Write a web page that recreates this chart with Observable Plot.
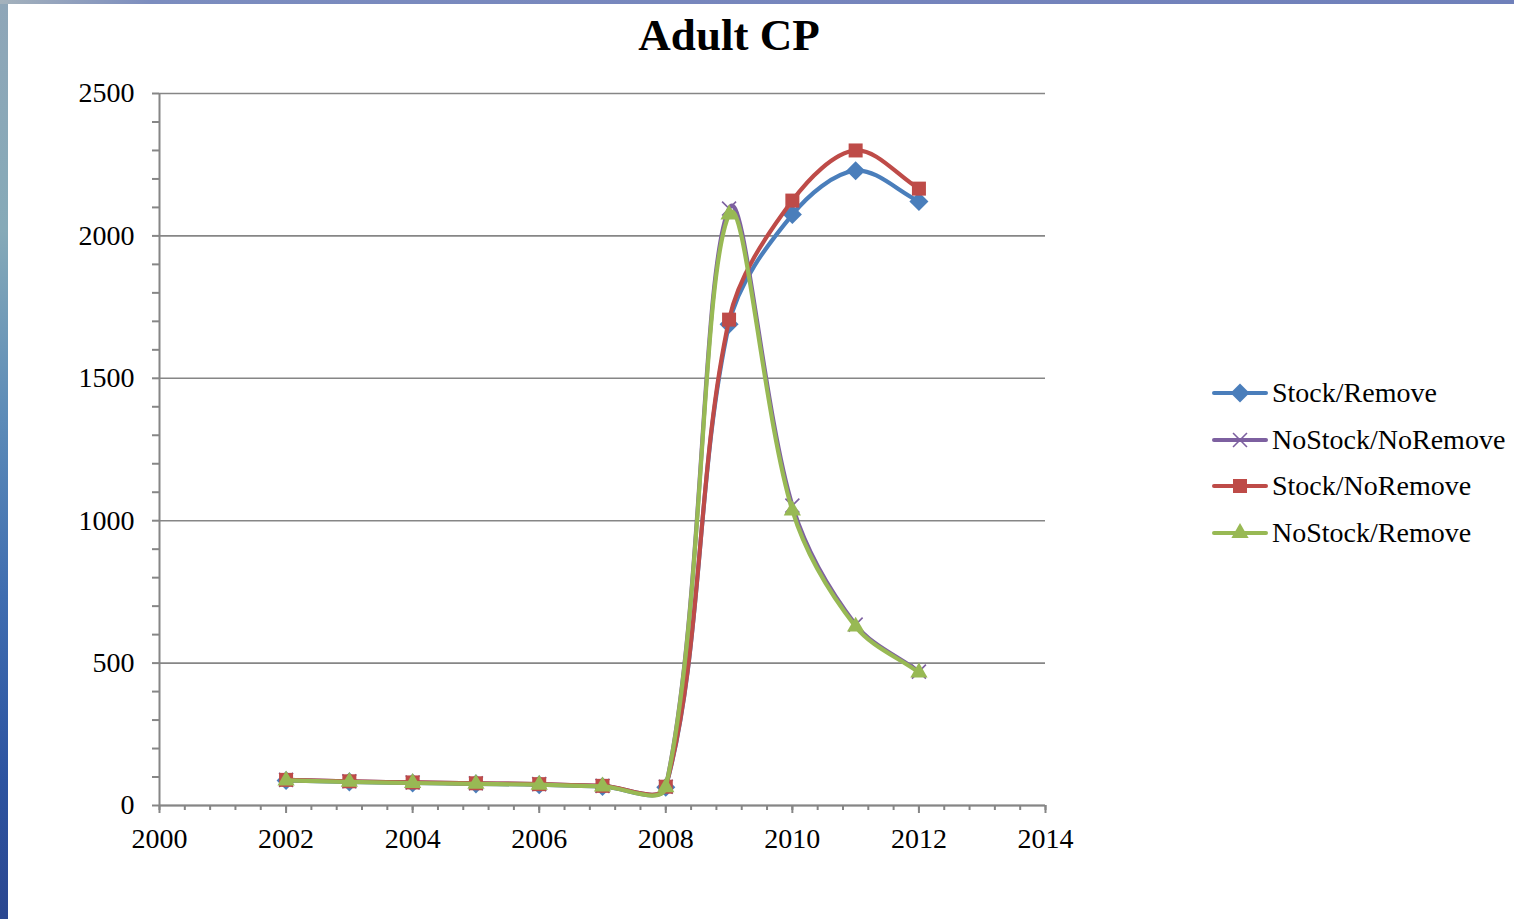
<!DOCTYPE html>
<html>
<head>
<meta charset="utf-8">
<script src="https://cdn.jsdelivr.net/npm/d3@7"></script>
<script src="https://cdn.jsdelivr.net/npm/@observablehq/plot@0.6"></script>
<style>
  html, body { margin: 0; padding: 0; }
  body {
    width: 1514px; height: 919px; overflow: hidden; position: relative;
    background: linear-gradient(to bottom, #8fa6b8 0%, #86aab8 25%, #5d8cb8 45%, #3f6db0 65%, #2c53a0 85%, #2b4790 100%);
  }
  #topband {
    position: absolute; left: 0; top: 0; width: 1514px; height: 4px;
    background: linear-gradient(to right, #a4b2bc 0%, #7c8dbf 10%, #7584bc 60%, #6f80ba 100%);
  }
  #panel {
    position: absolute; left: 8px; top: 4px; width: 1506px; height: 915px; background: #ffffff;
  }
  #title {
    position: absolute; left: 0; top: 9px; width: 1442px; text-align: center;
    font-family: "Liberation Serif", serif; font-weight: bold; font-size: 45px; line-height: 45px; color: #000;
  }
  #chart { position: absolute; left: 0; top: 0; }
  #legend {
    position: absolute; left: 1204px; top: 371px;
    font-family: "Liberation Serif", serif; font-size: 28px; color: #000;
  }
  .item { display: flex; align-items: center; height: 36px; margin-bottom: 10.7px; white-space: nowrap; }
  .item svg { margin-right: 4px; }
</style>
</head>
<body>
<div id="topband"></div>
<div id="panel">
  <div id="title">Adult CP</div>
  <div id="chart"></div>
  <div id="legend"></div>
</div>
<script>
// Annual adult CP counts for the four stocking / removal scenarios
const years = [2002, 2003, 2004, 2005, 2006, 2007, 2008, 2009, 2010, 2011, 2012];
const stockRemove     = [88, 83, 79, 76, 73, 67, 64, 1690, 2075, 2229, 2121];
const noStockNoRemove = [90, 85, 81, 78, 75, 69, 66, 2096, 1053, 635, 470];
const stockNoRemove   = [90, 85, 81, 78, 75, 69, 66, 1706, 2124, 2300, 2166];
const noStockRemove   = [88, 83, 79, 76, 73, 67, 64, 2075, 1036, 628, 467];

const seriesNames = ["Stock/Remove", "NoStock/NoRemove", "Stock/NoRemove", "NoStock/Remove"];
const seriesValues = [stockRemove, noStockNoRemove, stockNoRemove, noStockRemove];
const seriesColors = ["#4a7ebb", "#7d60a0", "#be4b48", "#98b954"];

// Axis ticks
const yMajor = [0, 500, 1000, 1500, 2000, 2500];
const yMinor = d3.range(0, 2501, 100);
const xMajor = [2000, 2002, 2004, 2006, 2008, 2010, 2012, 2014];
const xMinor = d3.range(0, 36).map(i => 2000 + i * 0.4);

// Smoothed line: cubic Bézier segments whose tangent at each point runs parallel
// to the chord between its neighbours, split in proportion to the adjacent segment lengths.
function SmoothCurve(context) { this._context = context; }
SmoothCurve.prototype = {
  areaStart() { this._line = 0; },
  areaEnd() { this._line = NaN; },
  lineStart() { this._xs = []; this._ys = []; },
  point(x, y) { this._xs.push(+x); this._ys.push(+y); },
  lineEnd() {
    const xs = this._xs, ys = this._ys, n = xs.length, ctx = this._context, k = 1 / 3;
    if (n) {
      if (this._line) ctx.lineTo(xs[0], ys[0]); else ctx.moveTo(xs[0], ys[0]);
    }
    if (n === 2) ctx.lineTo(xs[1], ys[1]);
    else if (n > 2) {
      const before = [], after = [];
      for (let i = 0; i < n; ++i) {
        const i0 = Math.max(0, i - 1), i2 = Math.min(n - 1, i + 1);
        const tx = xs[i2] - xs[i0], ty = ys[i2] - ys[i0];
        const d0 = Math.hypot(xs[i] - xs[i0], ys[i] - ys[i0]);
        const d1 = Math.hypot(xs[i2] - xs[i], ys[i2] - ys[i]);
        const s = d0 + d1 || 1;
        before.push([xs[i] - tx * k * d0 / s, ys[i] - ty * k * d0 / s]);
        after.push([xs[i] + tx * k * d1 / s, ys[i] + ty * k * d1 / s]);
      }
      for (let i = 1; i < n; ++i) {
        ctx.bezierCurveTo(after[i - 1][0], after[i - 1][1], before[i][0], before[i][1], xs[i], ys[i]);
      }
    }
    if (this._line || (this._line !== 0 && n === 1)) ctx.closePath();
    this._line = 1 - this._line;
  }
};
const smoothCurve = context => new SmoothCurve(context);

// Marker style per series
const markers = [
  {symbol: "square", rotate: 45, r: 7.6, fill: true},
  {symbol: "times", rotate: 0, r: 6.4, fill: false},
  {symbol: "square", rotate: 0, r: 7.9, fill: true},
  {symbol: "triangle", rotate: 0, r: 6.4, fill: true}
];

const series = seriesNames.map((name, i) => ({
  name,
  color: seriesColors[i],
  marker: markers[i],
  rows: years.map((year, j) => ({series: name, year, value: seriesValues[i][j]}))
}));

const axisGray = "#868686";

const seriesMarks = series.flatMap(s => [
  Plot.line(s.rows, {x: "year", y: "value", stroke: s.color, strokeWidth: 4.2, curve: smoothCurve}),
  Plot.dot(s.rows, s.marker.fill
    ? {x: "year", y: "value", symbol: s.marker.symbol, rotate: s.marker.rotate, r: s.marker.r, fill: s.color, stroke: "none"}
    : {x: "year", y: "value", symbol: s.marker.symbol, r: s.marker.r, fill: "none", stroke: s.color, strokeWidth: 1.6})
]);

const chart = Plot.plot({
  width: 1506,
  height: 915,
  marginLeft: 151,
  marginRight: 469,
  marginTop: 89,
  marginBottom: 114,
  style: {background: "transparent", fontFamily: "Liberation Serif, serif", fontSize: "28px", color: "#000", overflow: "visible"},
  x: {domain: [2000, 2014]},
  y: {domain: [0, 2500]},
  marks: [
    Plot.gridY(yMajor, {stroke: axisGray, strokeOpacity: 1, strokeWidth: 1.6}),
    Plot.axisY(yMinor, {tickSize: 7, tickFormat: () => "", stroke: axisGray, strokeWidth: 2, label: null}),
    Plot.axisY(yMajor, {tickSize: 0, tickPadding: 25, tickFormat: d => String(d), label: null, fontSize: 28}),
    Plot.axisX(xMinor, {tickSize: 5, tickFormat: () => "", stroke: axisGray, strokeWidth: 2, label: null}),
    Plot.axisX(xMajor, {tickSize: 8, tickFormat: () => "", stroke: axisGray, strokeWidth: 2, label: null}),
    Plot.axisX(xMajor, {tickSize: 0, tickPadding: 23, tickFormat: d => String(d), label: null, fontSize: 28}),
    Plot.ruleX([2000], {stroke: axisGray, strokeWidth: 2}),
    Plot.ruleY([0], {stroke: axisGray, strokeWidth: 2}),
    ...seriesMarks
  ]
});
document.getElementById("chart").appendChild(chart);

// Legend: line swatch with the series marker, then the name
const symbolTypes = {square: d3.symbolSquare, times: d3.symbolTimes, triangle: d3.symbolTriangle};
const legend = d3.select("#legend");
series.forEach(s => {
  const item = legend.append("div").attr("class", "item");
  const svg = item.append("svg").attr("width", 56).attr("height", 24);
  svg.append("line").attr("x1", 2).attr("x2", 54).attr("y1", 12).attr("y2", 12)
    .attr("stroke", s.color).attr("stroke-width", 4).attr("stroke-linecap", "round");
  const path = d3.symbol(symbolTypes[s.marker.symbol], Math.PI * s.marker.r * s.marker.r)();
  const m = svg.append("path").attr("d", path)
    .attr("transform", `translate(28,12) rotate(${s.marker.rotate})`);
  if (s.marker.fill) m.attr("fill", s.color);
  else m.attr("fill", "none").attr("stroke", s.color).attr("stroke-width", 1.6);
  item.append("span").text(s.name);
});
</script>
</body>
</html>
